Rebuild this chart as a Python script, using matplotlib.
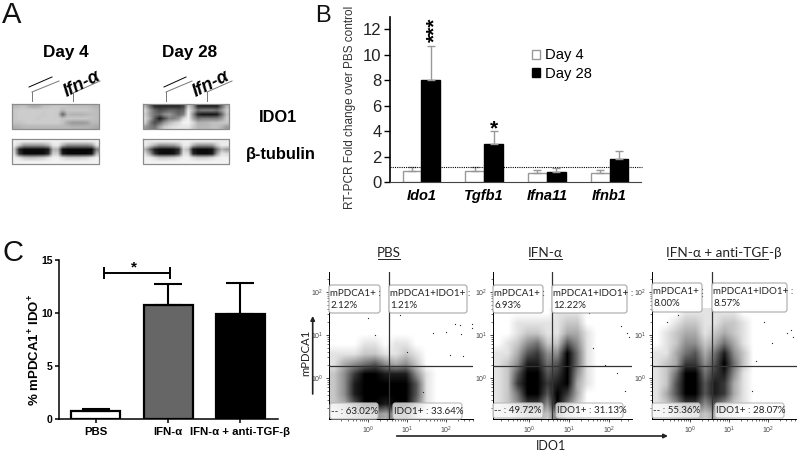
import matplotlib
matplotlib.use('Agg')
import matplotlib.pyplot as plt
import numpy as np
from matplotlib.patches import FancyBboxPatch
from matplotlib.transforms import ScaledTranslation

W, H = 797, 453

# panel B
genes = ['Ido1', 'Tgfb1', 'Ifna11', 'Ifnb1']
day4 = [0.9, 0.9, 0.7, 0.7]
day4_err = [0.25, 0.25, 0.25, 0.25]
day28 = [8.0, 3.0, 0.8, 1.8]
day28_err = [2.65, 1.0, 0.3, 0.6]
control_level = 1.15

# panel C
groups = ['PBS', 'IFN-α', 'IFN-α + anti-TGF-β']
percent = [0.75, 10.75, 9.9]
percent_err = [0.2, 1.95, 2.9]

# flow plots: dot density, 0 (empty) to 9 (solid), top row first
density_pbs = [
    [0, 0, 0, 0, 0, 0, 0, 0, 0, 0, 0, 0, 0, 0],
    [0, 0, 0, 1, 1, 0, 1, 1, 0, 0, 0, 0, 0, 0],
    [1, 1, 1, 2, 2, 1, 1, 2, 1, 0, 0, 0, 0, 0],
    [1, 3, 4, 5, 6, 4, 3, 4, 2, 0, 0, 0, 0, 0],
    [2, 4, 7, 9, 9, 8, 8, 8, 4, 1, 0, 0, 0, 0],
    [2, 4, 8, 9, 9, 9, 9, 9, 6, 1, 0, 0, 0, 0],
    [2, 4, 8, 9, 9, 9, 9, 9, 6, 1, 0, 0, 0, 0],
    [2, 3, 6, 9, 9, 8, 9, 9, 5, 1, 0, 0, 0, 0],
    [1, 2, 3, 4, 4, 3, 5, 5, 2, 0, 0, 0, 0, 0],
]
density_ifn = [
    [0, 0, 0, 0, 0, 0, 1, 1, 1, 0, 0, 0, 0, 0],
    [0, 0, 1, 1, 1, 1, 1, 2, 2, 0, 0, 0, 0, 0],
    [0, 0, 1, 2, 2, 1, 1, 3, 3, 1, 0, 0, 0, 0],
    [0, 1, 2, 4, 5, 2, 2, 6, 4, 1, 0, 0, 0, 0],
    [1, 1, 3, 6, 7, 4, 4, 9, 5, 1, 0, 0, 0, 0],
    [1, 2, 4, 8, 8, 5, 6, 9, 5, 1, 0, 0, 0, 0],
    [1, 2, 6, 9, 9, 6, 7, 9, 4, 1, 0, 0, 0, 0],
    [1, 2, 7, 9, 9, 7, 8, 9, 3, 1, 0, 0, 0, 0],
    [1, 2, 5, 9, 9, 6, 9, 7, 3, 0, 0, 0, 0, 0],
    [1, 2, 4, 7, 7, 4, 9, 5, 2, 0, 0, 0, 0, 0],
    [1, 1, 2, 3, 3, 2, 5, 2, 1, 0, 0, 0, 0, 0],
]
density_tgf = [
    [0, 0, 0, 1, 1, 1, 1, 1, 1, 0, 0, 0, 0, 0, 0],
    [0, 0, 1, 2, 2, 1, 1, 2, 2, 1, 0, 0, 0, 0, 0],
    [0, 1, 2, 3, 3, 1, 2, 3, 2, 1, 0, 0, 0, 0, 0],
    [0, 1, 2, 4, 4, 2, 3, 5, 3, 1, 0, 0, 0, 0, 0],
    [1, 1, 3, 5, 6, 3, 5, 8, 4, 2, 0, 0, 0, 0, 0],
    [1, 2, 3, 7, 7, 4, 6, 9, 5, 2, 0, 0, 0, 0, 0],
    [1, 2, 5, 9, 9, 5, 7, 8, 4, 1, 0, 0, 0, 0, 0],
    [1, 2, 6, 9, 9, 6, 8, 7, 3, 1, 0, 0, 0, 0, 0],
    [1, 3, 6, 9, 9, 6, 8, 7, 3, 1, 0, 0, 0, 0, 0],
    [1, 2, 4, 7, 7, 4, 6, 4, 2, 1, 0, 0, 0, 0, 0],
    [1, 1, 2, 3, 3, 2, 3, 2, 1, 0, 0, 0, 0, 0, 0],
]
# stray events, log10 IDO1 and log10 mPDCA1
stray_pbs_x = [2.24, 2.37, 2.67, 2.67, 2.38, 2.0, 1.67, 0.82, 0.18, 0.0, 0.99, 2.1, 2.45, 1.4]
stray_pbs_y = [1.26, 1.23, 1.26, 1.15, 1.01, 1.07, 1.03, 1.46, 1.0, 1.4, 0.6, 0.53, 0.5, -0.33]
stray_ifn_x = [2.3, 2.45, 2.5, 1.6, 1.9, 2.2, 2.4, 1.5, 0.2, 0.65, 1.0]
stray_ifn_y = [1.2, 1.05, 0.95, 0.7, 0.3, 0.1, -0.3, 1.5, 1.75, 1.9, 1.8]
stray_tgf_x = [2.5, 2.6, 2.65, 1.9, 2.1, 1.7, 1.6, -0.6, -0.3, 0.3, 0.6, 1.1]
stray_tgf_y = [1.05, 1.1, 0.95, 1.3, 0.8, 0.4, -0.3, 1.3, 1.45, 1.9, 2.2, 1.7]

# blots: grey level in percent
blot_d4_ido = [
    [72, 74, 76, 70, 66, 68, 74, 76, 78, 78, 78, 76, 74, 74, 74, 74, 72, 70],
    [78, 80, 80, 80, 80, 80, 80, 80, 80, 80, 72, 78, 78, 78, 78, 78, 76, 74],
    [78, 80, 80, 80, 80, 80, 78, 80, 80, 78, 40, 72, 70, 70, 70, 72, 74, 74],
    [78, 80, 80, 80, 80, 78, 80, 80, 80, 80, 76, 78, 78, 78, 78, 78, 76, 74],
    [76, 76, 78, 80, 80, 80, 80, 80, 80, 80, 76, 66, 60, 60, 60, 62, 72, 72],
    [68, 70, 72, 72, 72, 72, 72, 72, 72, 72, 72, 72, 70, 70, 70, 70, 68, 66],
]
blot_d4_tub = [
    [94, 94, 94, 94, 94, 94, 94, 94, 94, 94, 94, 94, 94, 94, 94, 94, 94, 94],
    [92, 80, 60, 60, 60, 60, 62, 70, 90, 92, 70, 55, 55, 55, 55, 55, 60, 88],
    [80, 15, 4, 4, 4, 4, 5, 10, 70, 70, 6, 3, 3, 3, 3, 3, 3, 50],
    [85, 20, 4, 3, 3, 3, 5, 15, 80, 80, 10, 4, 3, 3, 3, 3, 8, 70],
    [94, 88, 78, 75, 75, 78, 80, 88, 94, 94, 86, 80, 80, 80, 82, 84, 90, 94],
    [95, 95, 95, 95, 95, 95, 95, 95, 95, 95, 95, 95, 95, 95, 95, 95, 95, 95],
]
blot_d28_ido = [
    [70, 40, 15, 15, 15, 15, 15, 15, 25, 80, 60, 15, 12, 12, 12, 12, 40, 70],
    [85, 60, 40, 30, 35, 40, 40, 35, 40, 92, 70, 45, 50, 50, 50, 45, 60, 80],
    [80, 60, 45, 40, 55, 60, 50, 40, 50, 95, 55, 15, 8, 8, 8, 10, 40, 75],
    [85, 65, 35, 10, 30, 50, 50, 60, 85, 95, 65, 45, 50, 50, 50, 50, 60, 80],
    [80, 50, 30, 40, 60, 72, 80, 85, 95, 95, 85, 70, 70, 72, 75, 75, 78, 78],
    [60, 50, 45, 65, 80, 85, 88, 90, 90, 90, 80, 72, 72, 72, 75, 75, 70, 60],
]
blot_d28_tub = [
    [92, 92, 94, 94, 94, 94, 94, 94, 94, 94, 94, 94, 94, 94, 94, 92, 92, 92],
    [92, 82, 70, 58, 58, 60, 62, 72, 92, 92, 70, 58, 58, 58, 60, 80, 92, 92],
    [70, 40, 12, 6, 5, 5, 8, 18, 82, 72, 10, 4, 4, 4, 8, 45, 70, 60],
    [85, 60, 20, 5, 4, 4, 8, 25, 88, 85, 15, 5, 4, 4, 10, 60, 88, 85],
    [94, 92, 86, 78, 78, 80, 82, 88, 94, 94, 86, 80, 80, 82, 86, 92, 94, 94],
    [95, 95, 95, 95, 95, 95, 95, 95, 95, 95, 95, 95, 95, 95, 95, 95, 95, 95],
]

plt.rcParams['font.family'] = ['Liberation Sans', 'DejaVu Sans']
plt.rcParams['mathtext.fontset'] = 'custom'
plt.rcParams['mathtext.rm'] = 'Liberation Sans'
plt.rcParams['mathtext.bf'] = 'Liberation Sans:bold'

fig = plt.figure(figsize=(W / 100, H / 100), dpi=100)


def box_axes(left, top, right, bottom):
    return fig.add_axes([left / W, 1 - bottom / H, (right - left) / W, (bottom - top) / H])


# panel B
ax = box_axes(390, 17, 641, 182)
x = np.arange(len(genes))
ax.bar(x - 0.15, day4, 0.3, color='white', edgecolor='#999999', linewidth=1,
       yerr=[np.zeros(4), day4_err], ecolor='#999999', error_kw={'capsize': 3, 'elinewidth': 1}, label='Day 4')
ax.bar(x + 0.15, day28, 0.3, color='black', edgecolor='black', linewidth=1,
       yerr=[np.zeros(4), day28_err], ecolor='#999999', error_kw={'capsize': 3, 'elinewidth': 1}, label='Day 28')
ax.plot([-0.5, 3.52], [control_level, control_level], color='black', lw=0.8, ls=(0, (1, 1)), clip_on=False)
ax.set_xlim(-0.5, 3.5)
ax.set_ylim(0, 12.96)
ax.set_yticks(np.arange(0, 13, 2))
ax.set_xticks(x)
ax.set_xticklabels(genes, fontsize=10.5, fontweight='bold', style='italic')
ax.tick_params(axis='x', length=0, pad=5)
ax.tick_params(axis='y', labelsize=12, length=4, width=1, pad=2, labelcolor='#222222')
for s in ['top', 'right']:
    ax.spines[s].set_visible(False)
ax.spines['left'].set_linewidth(1.2)
ax.spines['bottom'].set_color('#444444')
ax.set_ylabel('RT-PCR Fold change over PBS control', fontsize=8.5, color='#333333', y=0.45, labelpad=5)
ax.legend(loc='upper left', bbox_to_anchor=(0.566, 0.81), frameon=False, fontsize=10.6, handlelength=0.55,
          handleheight=0.55, handletextpad=0.3, labelspacing=0.32, borderpad=0, borderaxespad=0)
ax.text(0.22, 11.97, '***', rotation=90, fontsize=15, ha='center', va='center', fontweight='bold')
ax.text(1.15, 3.4, '*', fontsize=15, ha='center', va='bottom', fontweight='bold')

# panel C
ax = box_axes(59, 260, 278, 419)
x = np.arange(len(groups))
ax.bar(x, percent, 0.68, color=['white', '#666666', 'black'], edgecolor='black', linewidth=1.6,
       yerr=[np.zeros(3), percent_err], ecolor='black', error_kw={'capsize': 10, 'elinewidth': 1.5, 'capthick': 1.5})
ax.set_xlim(-0.51, 2.52)
ax.set_ylim(0, 15)
ax.set_yticks([0, 5, 10, 15])
ax.set_xticks(x)
ax.set_xticklabels(groups, fontsize=8.2, fontweight='bold')
last = ax.get_xticklabels()[2]
last.set_transform(last.get_transform() + ScaledTranslation(8.5 / 100, 0, fig.dpi_scale_trans))
ax.tick_params(axis='x', length=3, width=1.1, pad=3)
ax.tick_params(axis='y', labelsize=7.5, length=3, width=1.1, pad=1.5)
for lab in ax.get_yticklabels():
    lab.set_fontweight('bold')
for s in ['top', 'right']:
    ax.spines[s].set_visible(False)
ax.spines['left'].set_linewidth(1.1)
ax.spines['bottom'].set_linewidth(1.1)
ax.set_ylabel(r'% mPDCA1$^{\mathbf{+}}$ IDO$^{\mathbf{+}}$', fontsize=9.5, fontweight='bold', y=0.434, labelpad=-1)
ax.errorbar([0.57], [13.75], xerr=[0.46], color='black', capsize=4, elinewidth=1.4, capthick=1.4)
ax.text(0.53, 13.6, '*', fontsize=11, ha='center', va='bottom', fontweight='bold')


# flow plots
def flow(left, right, xlim, gate_x, density, top_log, stray_x, stray_y):
    ax = box_axes(left, 272, right, 419)
    ax.imshow(density, cmap='gray_r', vmin=0, vmax=9, aspect='auto', interpolation='bilinear',
              extent=[xlim[0], xlim[1], -0.96, top_log], zorder=1)
    ax.scatter(stray_x, stray_y, s=0.8, color='#222222', linewidths=0, zorder=2)
    ax.axvline(gate_x, color='#333333', lw=0.9, zorder=3)
    ax.axhline(0.27, color='#333333', lw=0.9, zorder=3)
    ax.set_xlim(xlim)
    ax.set_ylim(-0.96, 2.46)
    ax.set_xticks([0, 1, 2])
    ax.set_xticklabels(['$10^0$', '$10^1$', '$10^2$'])
    ax.set_yticks([0, 1, 2])
    ax.set_yticklabels(['$10^0$', '$10^1$', '$10^2$'])
    minor = np.log10(np.arange(2, 10))
    ax.set_xticks([d + m for d in (-1, 0, 1, 2) for m in minor if xlim[0] < d + m < xlim[1]], minor=True)
    ax.set_yticks([d + m for d in (-1, 0, 1, 2) for m in minor if -0.96 < d + m < 2.46], minor=True)
    ax.tick_params(which='major', labelsize=5, length=2.5, width=0.5, pad=1.5, labelcolor='#444444')
    ax.tick_params(which='minor', length=1.2, width=0.4)
    for s in ['top', 'right']:
        ax.spines[s].set_visible(False)
    ax.spines['left'].set_linewidth(0.7)
    ax.spines['bottom'].set_linewidth(0.7)
    ax.patch.set_alpha(0)


flow(329.3, 473, (-1.0, 2.7), 0.55, density_pbs, 1.13, stray_pbs_x, stray_pbs_y)
flow(492.7, 631.7, (-0.9, 2.57), 0.58, density_ifn, 1.6, stray_ifn_x, stray_ifn_y)
flow(651.7, 796.7, (-0.98, 2.74), 0.56, density_tgf, 1.6, stray_tgf_x, stray_tgf_y)

# everything placed by pixel: blots, labels, arrows
ov = fig.add_axes([0, 0, 1, 1], zorder=10)
ov.patch.set_alpha(0)
ov.axis('off')

for grid, (x0, x1, y0, y1) in [(blot_d4_ido, (12, 99, 104, 129)), (blot_d4_tub, (12, 99, 139, 164)),
                               (blot_d28_ido, (143, 229, 104, 129)), (blot_d28_tub, (143, 229, 139, 164))]:
    ov.imshow(grid, cmap='gray', vmin=0, vmax=100, aspect='auto', interpolation='bilinear', extent=[x0, x1, y1, y0])
    ov.plot([x0, x1, x1, x0, x0], [y0, y0, y1, y1, y0], color='#8c8c8c', lw=0.9)

for letter, px, py, size in [('A', 2, 23, 21), ('B', 315, 22, 17), ('C', 2, 261, 21)]:
    ov.text(px, py, letter, fontsize=size, ha='left', va='baseline', color='#111111')

ov.text(65.7, 52.7, 'Day 4', fontsize=12.3, fontweight='bold', ha='center', va='center')
ov.text(189.3, 52.7, 'Day 28', fontsize=12.3, fontweight='bold', ha='center', va='center')
ov.text(278, 117, 'IDO1', fontsize=11.8, fontweight='bold', ha='center', va='center')
ov.text(245.5, 155, 'β-tubulin', fontsize=11.8, fontweight='bold', ha='left', va='center')
for cx in (82, 211):
    ov.text(cx, 84, 'Ifn-α', fontsize=13, fontweight='bold', style='italic', rotation=27,
            ha='center', va='center', rotation_mode='anchor')
lane_grey = '#777777'
for seg, col in [(((29, 52), (87, 77)), 'black'), (((32, 59), (92, 81)), lane_grey), (((32, 32), (92, 101)), lane_grey),
                 (((73, 100), (93, 81)), lane_grey), (((73, 73), (93, 101)), lane_grey),
                 (((164, 186), (87, 77)), 'black'), (((166, 192), (92, 81)), lane_grey), (((166, 166), (92, 101)), lane_grey),
                 (((207, 232), (92, 81)), lane_grey), (((207, 207), (92, 101)), lane_grey)]:
    ov.plot(seg[0], seg[1], color=col, lw=0.7)

# flow panel text
label_font = ['Lato', 'DejaVu Sans']
for title, cx, ux0, ux1 in [('PBS', 389, 378, 400), ('IFN-α', 545.5, 529, 562), ('IFN-α + anti-TGF-β', 724, 667.7, 768)]:
    ov.text(cx, 257, title, fontsize=9.7, ha='center', va='baseline', family=label_font, color='#222222')
    ov.plot([ux0, ux1], [258.5, 258.5], color='#222222', lw=0.7)

boxes = [
    (329, 380, 285, 313, 'mPDCA1+ :', '2.12%'), (389, 467, 285, 313, 'mPDCA1+IDO1+ :', '1.21%'),
    (493, 543, 285, 313, 'mPDCA1+ :', '6.93%'), (552, 627, 285, 313, 'mPDCA1+IDO1+ :', '12.22%'),
    (652, 702, 283, 312, 'mPDCA1+ :', '8.00%'), (712, 787, 283, 312, 'mPDCA1+IDO1+ :', '8.57%'),
]
gate_boxes = [
    (330, 378, 403, 419, '-- : 63.02%'), (393, 462, 403, 419, 'IDO1+ : 33.64%'),
    (493, 543, 403, 418, '-- : 49.72%'), (556, 623, 403, 418, 'IDO1+ : 31.13%'),
    (652, 700, 403, 418, '-- : 55.36%'), (715, 784, 403, 418, 'IDO1+ : 28.07%'),
]
for x0, x1, y0, y1, line1, line2 in boxes:
    ov.add_patch(FancyBboxPatch((x0, y0), x1 - x0, y1 - y0, boxstyle='round,pad=0,rounding_size=2.5',
                                fc='white', ec='#aaaaaa', lw=0.8))
    ov.text(x0 + 1.5, y0 + 8, line1, fontsize=7, ha='left', va='center', family=label_font, color='#222222')
    ov.text(x0 + 1.5, y0 + 20.5, line2, fontsize=7, ha='left', va='center', family=label_font, color='#222222')
for x0, x1, y0, y1, line in gate_boxes:
    ov.add_patch(FancyBboxPatch((x0, y0), x1 - x0, y1 - y0, boxstyle='round,pad=0,rounding_size=2.5',
                                fc=(1, 1, 1, 0.75), ec='#bbbbbb', lw=0.8))
    ov.text(x0 + 1.5, (y0 + y1) / 2, line, fontsize=7, ha='left', va='center', family=label_font, color='#222222')

ov.text(306, 353, 'mPDCA1', fontsize=8.2, rotation=90, ha='center', va='center', family=label_font, color='#222222')
ov.text(551, 446, 'IDO1', fontsize=9, ha='center', va='center', family=label_font, color='#222222')
ov.annotate('', xy=(312.7, 316), xytext=(312.7, 394),
            arrowprops=dict(arrowstyle='-|>', color='#222222', lw=1.2, mutation_scale=6, shrinkA=0, shrinkB=0))
ov.annotate('', xy=(668, 436), xytext=(396.7, 436),
            arrowprops=dict(arrowstyle='-|>', color='#222222', lw=1.2, mutation_scale=6, shrinkA=0, shrinkB=0))

ov.set_xlim(0, W)
ov.set_ylim(H, 0)

fig.savefig('out.png', dpi=100)
